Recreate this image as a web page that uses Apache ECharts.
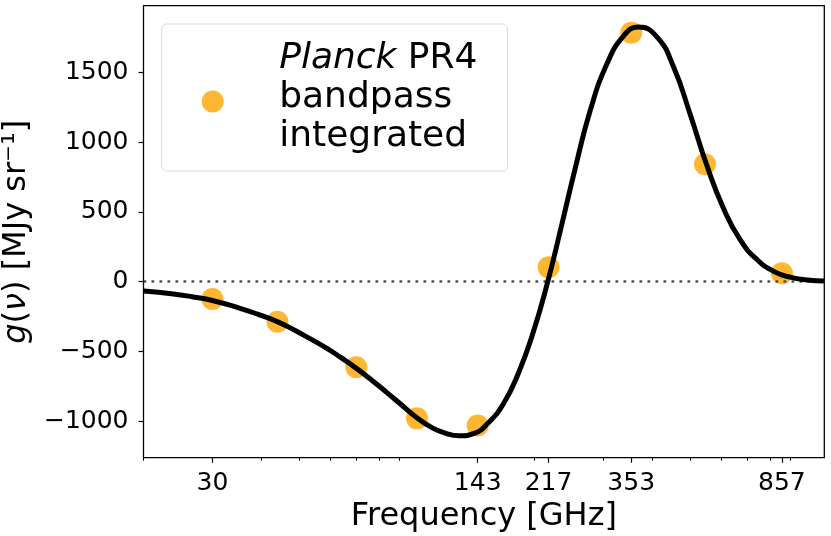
<!DOCTYPE html>
<html>
<head>
<meta charset="utf-8">
<script src="https://cdn.jsdelivr.net/npm/echarts@6/dist/echarts.min.js"></script>
<style>
  html, body { margin: 0; padding: 0; background: #fff; }
  #chart { width: 831px; height: 536px; }
</style>
</head>
<body>
<div id="chart"></div>
<script>
// g(nu) curve (frequency in GHz, value in MJy/sr)
var curveFreq = [20, 23.85, 26.8, 30, 35.3, 39.3, 43.8, 48.3, 53, 58.6, 64, 69.9, 76.4, 83.8,
    91.4, 100, 108.7, 118.1, 128.4, 140, 152, 166.4, 181.5, 198.2, 216, 233.7, 253.8, 277.2,
    305.9, 337.3, 368.4, 410.6, 452.8, 499.4, 551, 607.6, 670.8, 741, 819, 900, 994.7, 1100];
var curveVal = [-67, -88, -110, -135, -191, -235, -285, -343, -405, -475, -545, -620, -703, -795,
    -884, -976, -1043, -1086, -1105, -1088, -1014, -875, -660, -365, 0, 390, 810, 1225,
    1560, 1760, 1825, 1755, 1540, 1200, 833, 526, 299, 157, 72, 32, 12, 4];

// Planck PR4 bandpass integrated points
var bandFreq = [30, 44, 70, 100, 143, 217, 353, 545, 857];
var bandVal = [-124, -287, -613, -980, -1031, 103, 1784, 841, 60];

// ticks
var xMajor = [30, 143, 217, 353, 857];
var xMinor = [20, 40, 50, 60, 70, 80, 90, 200, 300, 400, 500, 600, 700, 800, 900];
var yTicks = [-1000, -500, 0, 500, 1000, 1500];

var FONT = 'DejaVu Sans';
var chart = echarts.init(document.getElementById('chart'));

var pointName = 'Planck PR4 bandpass integrated';

chart.setOption({
    animation: false,
    grid: {
        left: 143.5,
        right: 6.7,
        top: 5.7,
        bottom: 78.3,
        containLabel: false,
        outerBoundsMode: 'none',
        show: true,
        borderColor: '#000',
        borderWidth: 1.3,
        backgroundColor: 'transparent'
    },
    legend: {
        data: [{ name: pointName, icon: 'circle' }],
        left: 161.7,
        top: 24,
        orient: 'vertical',
        itemWidth: 73,
        itemHeight: 22,
        padding: [15, 30, 7, 40],
        borderColor: '#d9d9d9',
        borderWidth: 1,
        borderRadius: 5,
        backgroundColor: '#fff',
        formatter: function () {
            return '{i|Planck} PR4\nbandpass\nintegrated';
        },
        textStyle: {
            fontFamily: FONT,
            fontSize: 36,
            lineHeight: 39,
            color: '#000',
            padding: [0, 0, 8, 25],
            rich: {
                i: { fontFamily: FONT, fontSize: 36, lineHeight: 39, fontStyle: 'italic', color: '#000' }
            }
        }
    },
    xAxis: [{
        type: 'log',
        logBase: 10,
        min: 20,
        max: 1100,
        position: 'bottom',
        name: 'Frequency [GHz]',
        nameLocation: 'middle',
        nameGap: 37,
        nameTextStyle: { fontFamily: FONT, fontSize: 32, color: '#000' },
        axisLine: { show: false, onZero: false },
        splitLine: { show: false },
        axisTick: {
            show: true,
            inside: false,
            length: 5,
            customValues: xMajor,
            lineStyle: { color: '#000', width: 1.2 }
        },
        axisLabel: {
            customValues: xMajor,
            margin: 13,
            fontFamily: FONT,
            fontSize: 25,
            color: '#000',
            formatter: function (v) { return String(Math.round(v)); }
        }
    }, {
        type: 'log',
        logBase: 10,
        min: 20,
        max: 1100,
        position: 'bottom',
        axisLine: { show: false, onZero: false },
        splitLine: { show: false },
        axisLabel: { show: false },
        axisTick: {
            show: true,
            inside: false,
            length: 3,
            customValues: xMinor,
            lineStyle: { color: '#000', width: 1 }
        }
    }],
    yAxis: {
        type: 'value',
        min: -1262,
        max: 1978,
        name: '{i|g}({i|ν}) [MJy sr⁻¹]',
        nameLocation: 'middle',
        nameGap: 95,
        nameTextStyle: {
            fontFamily: FONT,
            fontSize: 32,
            color: '#000',
            rich: {
                i: { fontFamily: FONT, fontSize: 32, fontStyle: 'italic', color: '#000' }
            }
        },
        axisLine: { show: false, onZero: false },
        splitLine: { show: false },
        axisTick: {
            show: true,
            inside: false,
            length: 5,
            customValues: yTicks,
            lineStyle: { color: '#000', width: 1.2 }
        },
        axisLabel: {
            customValues: yTicks,
            margin: 15,
            fontFamily: FONT,
            fontSize: 25,
            color: '#000',
            formatter: function (v) {
                return v < 0 ? '\u2212' + Math.abs(v) : String(v);
            }
        }
    },
    series: [{
        name: pointName,
        type: 'scatter',
        xAxisIndex: 0,
        symbol: 'circle',
        symbolSize: 22,
        z: 2,
        itemStyle: { color: 'orange', opacity: 0.8 },
        data: bandFreq.map(function (f, i) { return [f, bandVal[i]]; })
    }, {
        name: 'g',
        type: 'line',
        xAxisIndex: 0,
        smooth: 0.5,
        showSymbol: false,
        z: 3,
        lineStyle: { color: '#000', width: 5 },
        data: curveFreq.map(function (f, i) { return [f, curveVal[i]]; }),
        markLine: {
            silent: true,
            z: 2.5,
            symbol: ['none', 'none'],
            label: { show: false },
            lineStyle: { color: '#4d4d4d', type: [2.7, 5.3], width: 2.7, cap: 'butt' },
            data: [{ yAxis: 0 }]
        }
    }]
});
</script>
</body>
</html>
